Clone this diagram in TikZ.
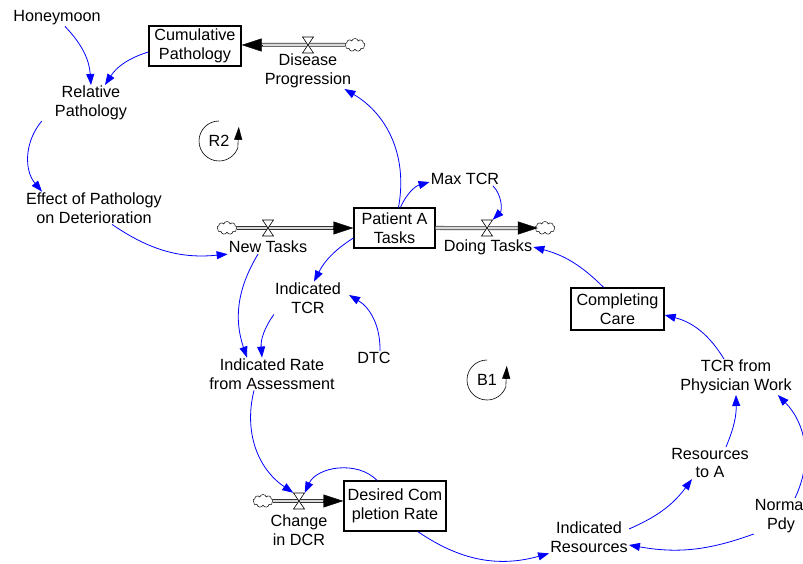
\documentclass[tikz,border=0pt]{standalone}
\usepackage{fontspec}
\setmainfont{Liberation Sans}
\usepackage{tikz}
\usetikzlibrary{arrows.meta,shapes.symbols}

\begin{document}
\begin{tikzpicture}[x=1pt,y=1pt,
	every node/.style={font=\fontsize{16.2}{18.5}\selectfont,align=center,inner sep=1pt},
	stock/.style={rectangle,draw,line width=1.4pt,minimum height=40pt},
	link/.style={blue,line width=0.8pt,-{Triangle[length=11pt,width=8pt]}},
	pipe/.style={draw=black!80,line width=0.7pt,double=black!15,double distance=2.6pt},
	pipehead/.style={draw=black,line width=0.4pt,-{Triangle[length=20pt,width=13pt]}},
	cloudnode/.style={cloud,draw,cloud puffs=9,aspect=1.5,minimum width=20pt,minimum height=13pt,inner sep=0pt,fill=white,line width=0.5pt},
	valvebox/.style={minimum width=11pt,minimum height=16pt,inner sep=0pt},
	valve/.pic={\draw[fill=white,line width=0.6pt] (-5.5,-8) -- (5.5,-8) -- (-5.5,8) -- (5.5,8) -- cycle;},
	loopmark/.style={line width=0.6pt,-{Triangle[length=13pt,width=8pt]}}]
	
		\useasboundingbox (0,0) rectangle (803,-564);
	
		\node (hm) at (57,-18) {Honeymoon};
		\node[stock,minimum width=92pt] (cp) at (195,-46) {Cumulative\\Pathology};
		\node[cloudnode] (dpc) at (355,-45) {};
		\node[valvebox] (dpv) at (308,-45) {};
		\node (dp) at (308,-71) {Disease\\Progression};
		\node (rp) at (91,-103) {Relative\\Pathology};
		\node (r2) at (219,-141) {R2};
		\node (ef) at (94,-208) {Effect of Pathology\\on Deterioration};
		
		\node[cloudnode] (ntc) at (227,-228) {};
		\node[valvebox] (ntv) at (268,-228) {};
		\node (nt) at (268,-247) {New Tasks};
		\node[stock,minimum width=81pt] (pa) at (394.5,-228) {Patient A\\Tasks};
		\node[valvebox] (dtv) at (487,-228) {};
		\node (dt) at (488,-247) {Doing Tasks};
		\node[cloudnode] (dtk) at (545,-228) {};
		\node (mt) at (465,-179) {Max TCR};
		
		\node (it) at (308,-298) {Indicated\\TCR};
		\node (dtc) at (374,-358) {DTC};
		\node (ir) at (272,-374) {Indicated Rate\\from Assessment};
		\node (b1) at (487,-380) {B1};
		\node[stock,minimum width=93pt,minimum height=42pt] (cc) at (617.5,-309) {Completing\\Care};
		\node (tcr) at (736,-377) {TCR from\\Physician Work};
		\node (ra) at (710,-463) {Resources\\to A};
		\node (np) at (781,-516) {Normal\\Pdy};
		\node (res) at (589,-537) {Indicated\\Resources};
		
		\node[cloudnode] (cdc) at (263,-501) {};
		\node[valvebox] (cdv) at (299,-501) {};
		\node (cd) at (299,-530) {Change\\in DCR};
		\node[stock,minimum width=102pt,minimum height=50pt] (dcr) at (395,-506) {Desired Com\\pletion Rate};
		\coordinate (cdin) at (cdc -| dcr.west);
		
		\draw[pipe,shorten >=19pt] (dpc) -- (cp.east |- dpc);
		\draw[pipehead] ([xshift=20pt]cp.east |- dpc) -- (cp.east |- dpc);
		\draw[pipe,shorten >=19pt] (ntc) -- (pa.west);
		\draw[pipehead] ([xshift=-20pt]pa.west) -- (pa.west);
		\draw[pipe,shorten >=19pt] (pa.east) -- ([xshift=3pt]dtk.west);
		\draw[pipehead] ([xshift=-17pt]dtk.west) -- ([xshift=3pt]dtk.west);
		\draw[pipe,shorten >=19pt] (cdc) -- (cdin);
		\draw[pipehead] ([xshift=-20pt]cdin) -- (cdin);
		\pic at (dpv) {valve};
		\pic at (ntv) {valve};
		\pic at (dtv) {valve};
		\pic at (cdv) {valve};
		
		\draw[loopmark] ([yshift=20pt]r2.center) arc[start angle=90,end angle=340,radius=20pt] -- ++(1,21);
		\draw[loopmark] ([yshift=20pt]b1.center) arc[start angle=90,end angle=340,radius=20pt] -- ++(1,21);
		
		\path[link] ([xshift=8pt]hm.south) edge[bend left=20] (rp.north);
		\path[link] ([yshift=-6pt]cp.west) edge[bend right=20] ([xshift=14pt]rp.north);
		\path[link] ([xshift=-12pt]rp.south west) edge[bend right=40] ([xshift=-52pt]ef.north);
		\path[link] ([xshift=18pt]ef.south) edge[bend right=20] (nt.south west);
		\path[link] ([xshift=4pt]pa.north) edge[bend right=35] ([xshift=-8pt]dp.south east);
		\path[link] ([xshift=6pt]pa.north) edge[bend left=25] ([yshift=-3pt]mt.west);
		\path[link] ([xshift=28pt]mt.south) edge[bend left=45] (dtv.north east);
		\path[link] ([xshift=-14pt]cc.north) edge[bend right=15] (dt.east);
		\path[link] ([yshift=-10pt]pa.west) edge[bend right=15] ([xshift=6pt]it.north);
		\path[link] ([xshift=6pt]dtc.north) edge[bend right=30] ([xshift=7pt,yshift=3pt]it.east);
		\path[link] ([xshift=-10pt]nt.south) edge[bend right=25] ([xshift=-25pt]ir.north);
		\path[link] (it.south west) edge[bend right=20] ([xshift=-10pt]ir.north);
		\path[link] ([xshift=-18pt]ir.south) edge[bend right=35] (cdv.north west);
		\path[link] ([xshift=-18pt]dcr.north) edge[bend right=55] (cdv.north east);
		\path[link] ([xshift=23pt]dcr.south) edge[bend right=25] (res.south west);
		\path[link] ([yshift=8pt]res.east) edge[bend right=15] ([xshift=-18pt]ra.south);
		\path[link] ([xshift=16pt]ra.north) edge[bend right=12] (tcr.south);
		\path[link] ([xshift=14pt]np.north) edge[bend right=35] ([xshift=-15pt]tcr.south east);
		\path[link] (np.south west) edge[bend left=15] ([yshift=-8pt]res.east);
		\path[link] ([xshift=-12pt]tcr.north) edge[bend right=22] ([yshift=-6pt]cc.east);
		
	\end{tikzpicture}
\end{document}
